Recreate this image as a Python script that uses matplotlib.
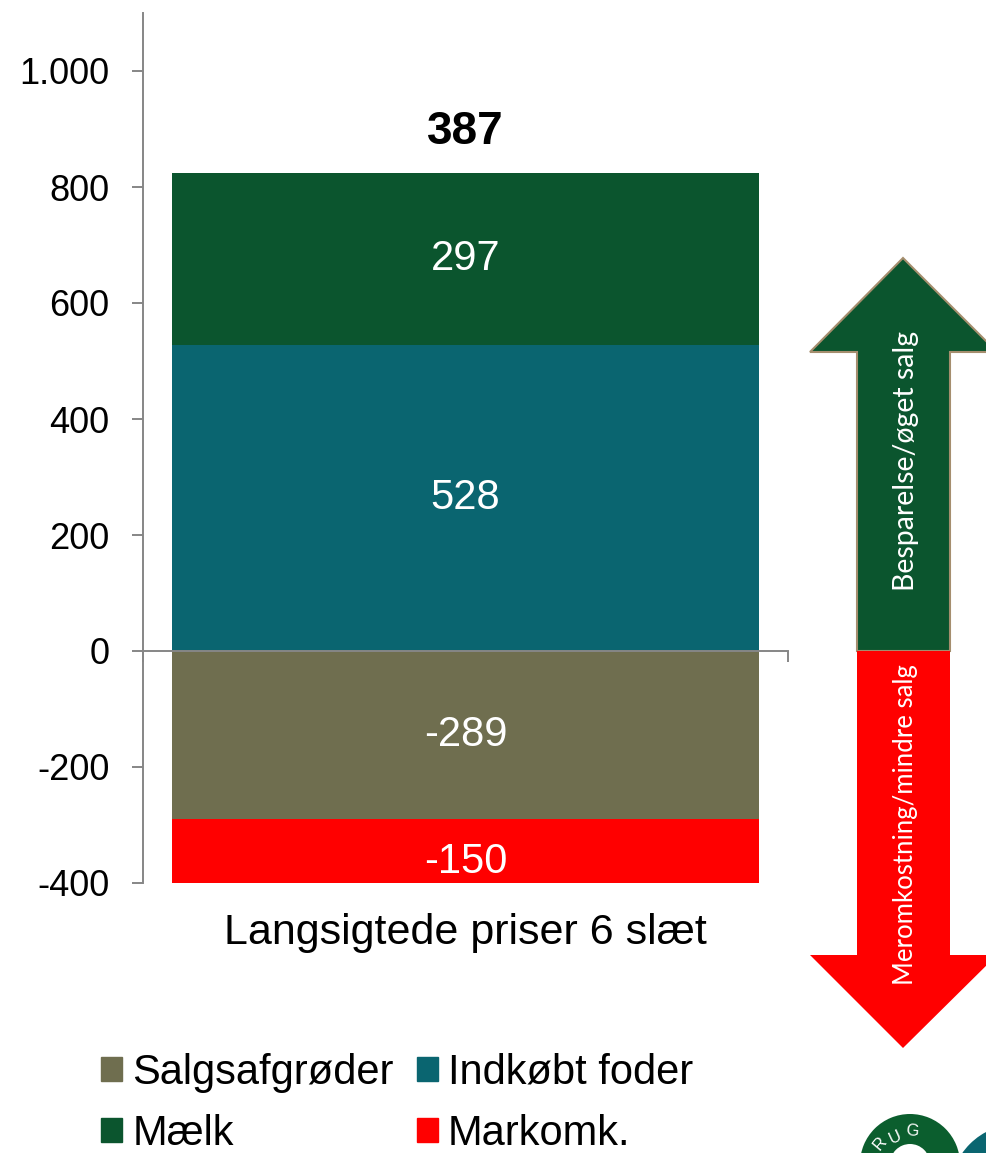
import matplotlib.pyplot as plt
import matplotlib.patches as mpatches
from matplotlib.ticker import FuncFormatter

plt.rcParams['font.family'] = ['Liberation Sans', 'DejaVu Sans']

# data
category = 'Langsigtede priser 6 slæt'
series = ['Salgsafgrøder', 'Indkøbt foder', 'Mælk', 'Markomk.']
values = [-289, 528, 297, -150]
colors = ['#6F6E4F', '#0A6570', '#0B552E', '#FF0000']
total_label = 387
arrow_texts = ['Besparelse/øget salg', 'Meromkostning/mindre salg']

fig = plt.figure(figsize=(9.87, 11.53), dpi=100)
ax = fig.add_axes([143/987, 1 - 883/1153, 645/987, 870/1153])

# stacked bar, positives up from 0 and negatives down from 0
pos_base = 0
neg_base = 0
for name, v, c in zip(series, values, colors):
    if v >= 0:
        ax.bar(0, v, bottom=pos_base, width=1.0, color=c, label=name, zorder=2)
        mid = pos_base + v / 2
        pos_base += v
    else:
        ax.bar(0, v, bottom=neg_base, width=1.0, color=c, label=name, zorder=2)
        mid = neg_base + v / 2
        neg_base += v
    ax.text(0, mid, str(v), ha='center', va='center', color='white', fontsize=30, zorder=3)

ax.annotate(str(total_label), xy=(0, pos_base), xytext=(0, 29), textcoords='offset points',
            ha='center', va='center', fontsize=33, fontweight='bold')

ax.set_xlim(-0.55, 0.55)
ax.set_ylim(-400, 1100)
ax.set_yticks(range(-400, 1001, 200))
ax.yaxis.set_major_formatter(FuncFormatter(lambda v, p: f'{int(v):,}'.replace(',', '.')))
ax.tick_params(axis='y', labelsize=26, length=8, width=1.4, color='#868686', pad=16)
ax.set_xticks([-0.55, 0.55])
ax.set_xticklabels(['', ''])
ax.tick_params(axis='x', length=8, width=1.4, color='#868686')

for s in ['top', 'right']:
    ax.spines[s].set_visible(False)
ax.spines['bottom'].set_position(('data', 0))
for s in ['left', 'bottom']:
    ax.spines[s].set_color('#868686')
    ax.spines[s].set_linewidth(1.4)
ax.spines['bottom'].set_zorder(3)

ax.annotate(category, xy=(0, 0), xycoords=('data', 'axes fraction'), xytext=(0, -36),
            textcoords='offset points', ha='center', va='center', fontsize=31, annotation_clip=False)

# legend, rows: Salgsafgrøder / Indkøbt foder, Mælk / Markomk.
order = ['Salgsafgrøder', 'Mælk', 'Indkøbt foder', 'Markomk.']
handles = [mpatches.Patch(color=colors[series.index(n)]) for n in order]
fig.legend(handles, order, ncol=2, loc='upper left', bbox_to_anchor=(101/987, 1 - 1053/1153),
           frameon=False, fontsize=30, handlelength=0.5, handleheight=0.5, handletextpad=0.25,
           columnspacing=0.55, labelspacing=0.5, borderpad=0, borderaxespad=0)

# overlay in pixel coordinates for the arrows and logo
ov = fig.add_axes([0, 0, 1, 1])
ov.set_xlim(0, 987)
ov.set_ylim(1153, 0)
ov.axis('off')
ov.patch.set_alpha(0)

cx = 903
up = [(857, 651), (857, 352), (810, 352), (cx, 258), (997, 352), (950, 352), (950, 651)]
down = [(857, 651), (857, 955), (810, 955), (cx, 1048), (997, 955), (950, 955), (950, 651)]
ov.add_patch(mpatches.Polygon(up, closed=True, facecolor='#0B552E', edgecolor='#A58E6E', lw=1.5))
ov.add_patch(mpatches.Polygon(down, closed=True, facecolor='#FF0000', edgecolor='none'))
ov.text(906, 461, arrow_texts[0], rotation=90, ha='center', va='center', color='white',
        fontsize=20.5, family='Lato')
ov.text(906, 825, arrow_texts[1], rotation=90, ha='center', va='center', color='white',
        fontsize=18.5, family='Lato')

# partial logo in the corner
ov.add_patch(mpatches.Circle((1018, 1192), 68, facecolor='#0A6570', edgecolor='none'))
ov.add_patch(mpatches.Wedge((910, 1164), 50, 0, 360, width=30, facecolor='#0B5E2E', edgecolor='none'))
for ch, ang, (x, y) in zip('RUG', [50, 25, -5], [(880, 1144), (895, 1137), (912, 1131)]):
    ov.text(x, y, ch, rotation=ang, ha='center', va='center', color='white', fontsize=12)

fig.savefig('out.png', dpi=100)
